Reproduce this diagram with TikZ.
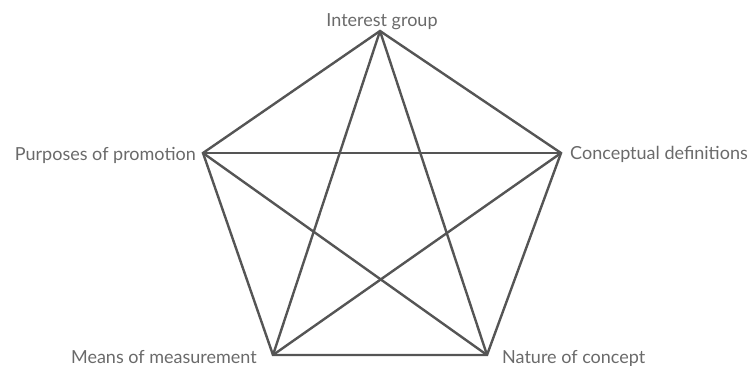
\documentclass[tikz,border=0pt]{standalone}
\usepackage{fontspec}
\setmainfont{Lato}
\definecolor{edgegray}{HTML}{555555}
\definecolor{textgray}{HTML}{6a6a6a}
\begin{document}
\begin{tikzpicture}[x=1pt,y=-1pt,
  edge/.style={draw=edgegray,line width=2.4pt,line join=miter},
  lbl/.style={text=textgray,font=\fontsize{18}{21}\selectfont,inner sep=0pt}]
\useasboundingbox (0,0) rectangle (749,366);
\coordinate (T) at (380,31);
\coordinate (L) at (203,153);
\coordinate (R) at (561,153);
\coordinate (BL) at (273,355);
\coordinate (BR) at (487,355);
\draw[edge] (T) -- (L) -- (BL) -- (BR) -- (R) -- cycle;
\draw[edge] (T) -- (BL);
\draw[edge] (T) -- (BR);
\draw[edge] (L) -- (R);
\draw[edge] (L) -- (BR);
\draw[edge] (R) -- (BL);
\node[lbl,anchor=base] (lt) at (382,27) {Interest group};
\node[lbl,anchor=base east] (ll) at (196,161) {Purposes of promotion};
\node[lbl,anchor=base west] (lr) at (570,160) {Conceptual definitions};
\node[lbl,anchor=base east] (lbl) at (257,363) {Means of measurement};
\node[lbl,anchor=base west] (lbr) at (502,363) {Nature of concept};
\end{tikzpicture}
\end{document}
